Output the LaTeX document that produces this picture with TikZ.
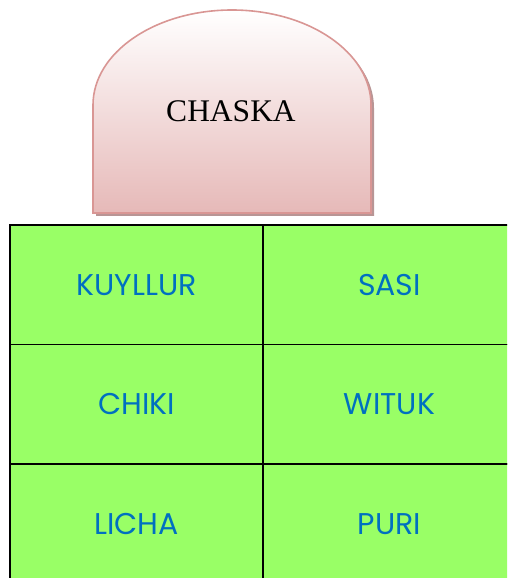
\documentclass[tikz,border=0pt]{standalone}
\usepackage{fontspec}
\setmainfont{Liberation Serif}
\newfontfamily\cellfont{Poppins}
\usepackage{tikz}
\definecolor{CellGreen}{HTML}{99FF66}
\definecolor{CellBlue}{HTML}{0070C0}
\definecolor{ArchLine}{HTML}{D99694}
\definecolor{ArchFill}{HTML}{E6B9B8}
\definecolor{ArchShadow}{HTML}{B89595}

\tikzset{
  cell/.style={draw=black, line width=1.5pt, fill=CellGreen, inner sep=0pt,
    minimum width=253pt, minimum height=119.5pt,
    text=CellBlue, font=\cellfont\fontsize{30}{36}\selectfont},
  arch/.style={draw=ArchLine, line width=1.6pt, top color=white, bottom color=ArchFill}
}

\begin{document}
\begin{tikzpicture}[x=1pt,y=1pt]
        \useasboundingbox (0,0) rectangle (507,578);
        \clip (0,0) rectangle (507,578);

        % the arch with its shadow
        \fill[ArchShadow] (96,362) -- (96,470) arc[start angle=180, end angle=0, x radius=139, y radius=95] -- (374,362) -- cycle;
        \draw[arch] (93,365) -- (93,473) arc[start angle=180, end angle=0, x radius=139, y radius=95] -- (371,365) -- cycle;
        \node[font=\fontsize{31.5}{36}\selectfont] (chaska) at (231,467) {CHASKA};

        % the grid
        \node[cell] (kuyllur) at (136.5,293.25) {KUYLLUR};
        \node[cell] (sasi)    at (389.5,293.25) {SASI};
        \node[cell] (chiki)   at (136.5,173.75) {CHIKI};
        \node[cell] (wituk)   at (389.5,173.75) {WITUK};
        \node[cell] (licha)   at (136.5,54.25)  {LICHA};
        \node[cell] (puri)    at (389.5,54.25)  {PURI};

\end{tikzpicture}
\end{document}
